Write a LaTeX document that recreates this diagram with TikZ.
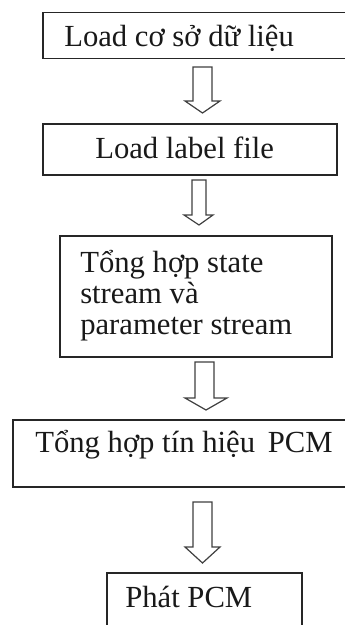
\documentclass[tikz,border=0pt]{standalone}
\usepackage{fontspec}
\setmainfont{Liberation Serif}
\begin{document}
\begin{tikzpicture}[x=0.75pt,y=-0.75pt,
  box/.style={draw=black!85,line width=1.2pt,rectangle,inner sep=0pt},
  lbl/.style={anchor=base west,inner sep=0pt,text=black!90,font=\fontsize{23}{23}\selectfont},
  hollow/.style={draw=black!75,line width=0.9pt,fill=white,line join=miter}]
  \clip (0,0) rectangle (345,625);
  \fill[white] (0,0) rectangle (345,625);

  % process boxes
  \node[box,minimum width=307*0.75pt,minimum height=46*0.75pt] (b1) at (196.5,35.5) {};
  \node[box,minimum width=294*0.75pt,minimum height=51*0.75pt] (b2) at (190,149.5) {};
  \node[box,minimum width=272*0.75pt,minimum height=121*0.75pt] (b3) at (196,296.5) {};
  \node[box,minimum width=337*0.75pt,minimum height=67*0.75pt] (b4) at (181.5,453.5) {};
  \node[box,minimum width=195*0.75pt,minimum height=67*0.75pt] (b5) at (204.5,606.5) {};

  % labels
  \node[lbl] (t1) at (64,46.5) {Load cơ sở dữ liệu};
  \node[lbl] (t2) at (95,158) {Load label file};
  \node[lbl] (t3a) at (80,272) {Tổng hợp state};
  \node[lbl] (t3b) at (80,303) {stream và};
  \node[lbl] (t3c) at (80,334) {parameter stream};
  \node[lbl] (t4) at (35,452) {Tổng hợp tín hiệu\, PCM};
  \node[lbl] (t5) at (125,607) {Phát PCM};

  % hollow block arrows between the boxes
  \draw[hollow] (193,67) coordinate (a1) -- (212,67) -- (212,101) -- (220,101) -- (202.5,113) coordinate (a1tip) -- (185,101) -- (193,101) -- cycle;
  \draw[hollow] (192,180) coordinate (a2) -- (206,180) -- (206,215) -- (213,215) -- (199,225) coordinate (a2tip) -- (184,215) -- (192,215) -- cycle;
  \draw[hollow] (195,362) coordinate (a3) -- (214,362) -- (214,398) -- (227,398) -- (206,410) coordinate (a3tip) -- (185,398) -- (195,398) -- cycle;
  \draw[hollow] (193,502) coordinate (a4) -- (212,502) -- (212,547) -- (220,547) -- (202.5,563) coordinate (a4tip) -- (185,547) -- (193,547) -- cycle;
\end{tikzpicture}
\end{document}
